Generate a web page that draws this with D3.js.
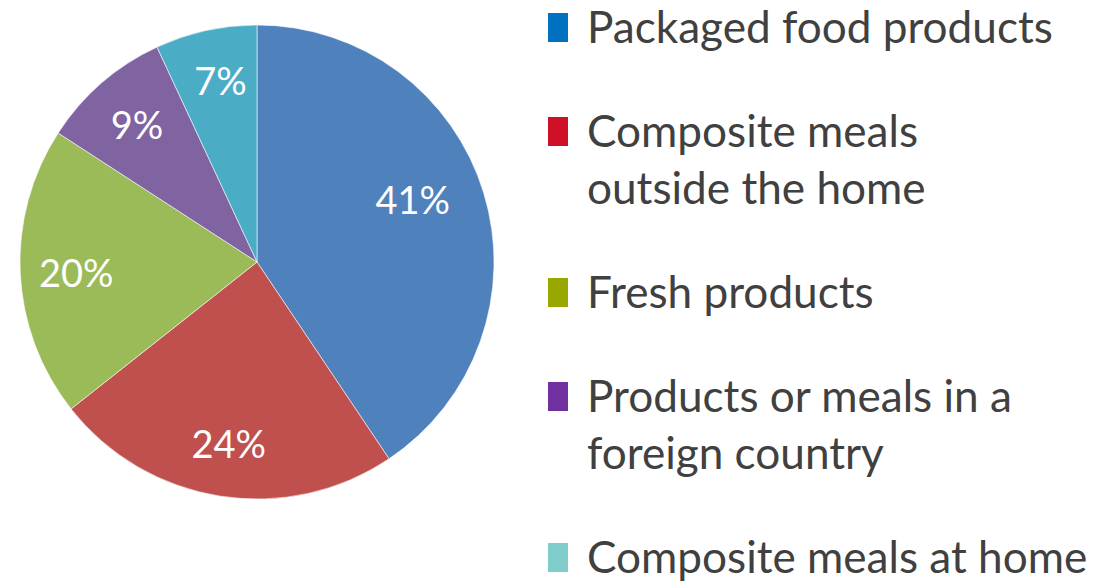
<!DOCTYPE html>
<html>
<head>
<meta charset="utf-8">
<script src="https://cdn.jsdelivr.net/npm/d3@7"></script>
<style>
  html, body { margin: 0; padding: 0; background: #ffffff; }
  svg { display: block; }
</style>
</head>
<body>
<svg id="chart" width="1109" height="583"></svg>
<script>
// Share of spending by food category
const categories = [
  "Packaged food products",
  "Composite meals outside the home",
  "Fresh products",
  "Products or meals in a foreign country",
  "Composite meals at home"
];
const values = [41, 24, 20, 9, 7];

// Legend text, wrapped as it appears
const legendLines = [
  ["Packaged food products"],
  ["Composite meals", "outside the home"],
  ["Fresh products"],
  ["Products or meals in a", "foreign country"],
  ["Composite meals at home"]
];

const sliceColors  = ["#4F81BD", "#C0504D", "#9BBB59", "#8064A2", "#4BACC6"];
const legendColors = ["#0070C0", "#CE1126", "#98A800", "#7030A0", "#80CDCB"];

// Small hand offsets for the percentage labels (px)
const labelNudge = [[-5, -12], [0, 2], [2, 3], [0, 2], [3, -2]];

const svg = d3.select("#chart");
const font = "Lato, 'Open Sans', sans-serif";

const cx = 257, cy = 262, R = 237;

const pie = d3.pie().sort(null).value(d => d.value);
const arcs = pie(categories.map((c, i) => ({ name: c, value: values[i], i })));
const arc = d3.arc().innerRadius(0).outerRadius(R);

const g = svg.append("g").attr("transform", `translate(${cx},${cy})`);

g.selectAll("path.slice")
  .data(arcs)
  .join("path")
  .attr("class", "slice")
  .attr("d", arc)
  .attr("fill", d => sliceColors[d.data.i])
  .attr("stroke", "#ffffff")
  .attr("stroke-width", 0.8)
  .attr("stroke-opacity", 0.7);

// Percentage labels inside the slices; the large slice keeps its label nearer the centre
const labelR = d => (d.endAngle - d.startAngle) > Math.PI * 0.6 ? 168 : 183;
const mid = d => (d.startAngle + d.endAngle) / 2;
g.selectAll("text.pct")
  .data(arcs)
  .join("text")
  .attr("class", "pct")
  .attr("x", d => Math.sin(mid(d)) * labelR(d) + labelNudge[d.data.i][0])
  .attr("y", d => -Math.cos(mid(d)) * labelR(d) + labelNudge[d.data.i][1])
  .attr("dy", "0.35em")
  .attr("text-anchor", "middle")
  .attr("fill", "#ffffff")
  .attr("font-family", font)
  .attr("font-size", 38)
  .text(d => d.data.value + "%");

// Legend
const legend = svg.append("g");
const lx = 548, tx = 587, lineGap = 57, itemGap = 104;
let baseline = 43;

// Size the legend text so the first entry spans its intended width
const probe = legend.append("text")
  .attr("font-family", font).attr("font-size", 100)
  .text(legendLines[0][0]);
const fs = 100 * 466 / probe.node().getComputedTextLength();
probe.remove();

legendLines.forEach((lines, i) => {
  legend.append("rect")
    .attr("x", lx)
    .attr("y", baseline - 30)
    .attr("width", 20)
    .attr("height", 29)
    .attr("fill", legendColors[i]);
  lines.forEach((line, j) => {
    legend.append("text")
      .attr("x", tx)
      .attr("y", baseline + j * lineGap)
      .attr("fill", "#404040")
      .attr("font-family", font)
      .attr("font-size", fs)
      .text(line);
  });
  baseline += (lines.length - 1) * lineGap + itemGap;
});
</script>
</body>
</html>
